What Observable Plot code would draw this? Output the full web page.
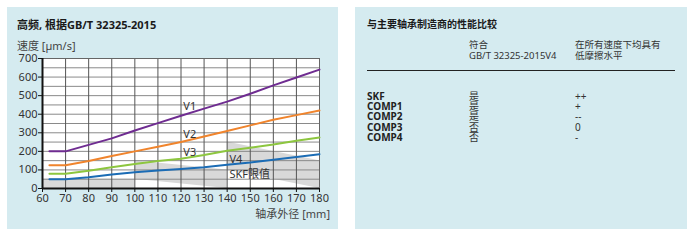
<!DOCTYPE html>
<html>
<head>
<meta charset="utf-8">
<script src="https://cdn.jsdelivr.net/npm/d3@7"></script>
<script src="https://cdn.jsdelivr.net/npm/@observablehq/plot@0.6"></script>
<style>
  html, body { margin: 0; padding: 0; background: #fff; }
  body { width: 693px; height: 241px; position: relative; overflow: hidden;
         font-family: "Noto Sans", "Noto Sans CJK SC", sans-serif; color: #222; }
  .panel { position: absolute; background: #d5ebf0; }
  .abs { position: absolute; white-space: nowrap; }
  .title { font-weight: bold; font-size: 11px; color: #1a1a1a; }
  #chart { position: absolute; left: 0; top: 0; }
</style>
</head>
<body>
<div class="panel" style="left:7px;top:7px;width:331px;height:222px;"></div>
<div class="panel" style="left:355px;top:7px;width:332px;height:222px;"></div>
<div class="abs title" id="title" style="left:17px;top:16px;"></div>
<div class="abs" id="subtitle" style="left:17px;top:37px;font-size:11px;color:#444;"></div>
<div id="chart"></div>
<div class="abs" id="xlabel" style="right:363px;top:205px;font-size:11px;color:#444;"></div>
<div id="table"></div>
<script>
// ---- chart data ----
const sizes = [63, 70, 80, 90, 100, 110, 120, 130, 140, 150, 160, 170, 180];
const v1 = [200, 200, 235, 270, 312, 352, 392, 430, 468, 510, 555, 598, 640];
const v2 = [125, 125, 148, 175, 200, 225, 250, 280, 310, 340, 370, 395, 420];
const v3 = [80, 80, 95, 115, 132, 148, 160, 180, 203, 220, 237, 257, 275];
const v4 = [50, 50, 60, 75, 88, 97, 105, 115, 128, 140, 155, 170, 185];
const seriesNames = ["V1", "V2", "V3", "V4"];
const seriesColors = ["#6f2c91", "#f0842c", "#8dc63f", "#1b6cb5"];
const limitX = [60, 100, 100, 140, 140, 180];
const limitY = [50, 50, 100, 100, 150, 150];
const labelTexts = ["V1", "V2", "V3", "V4", "SKF限值"];
const labelX = [121, 121, 121, 141, 141];
const labelY = [440, 290, 193, 155, 75];
const xTicks = [60, 70, 80, 90, 100, 110, 120, 130, 140, 150, 160, 170, 180];
const yTicks = [0, 100, 200, 300, 400, 500, 600, 700];
const yGrid = [50, 100, 150, 200, 250, 300, 350, 400, 450, 500, 550, 600, 650];
const chartTitle = "高频, 根据GB/T 32325-2015";
const yLabel = "速度 [µm/s]";
const xLabel = "轴承外径 [mm]";

// ---- table data ----
const tableTitle = "与主要轴承制造商的性能比较";
const colHeader2 = ["符合", "GB/T 32325-2015V4"];
const colHeader3 = ["在所有速度下均具有", "低摩擦水平"];
const rowNames = ["SKF", "COMP1", "COMP2", "COMP3", "COMP4"];
const compliant = ["是", "是", "是", "否", "否"];
const friction = ["++", "+", "--", "0", "-"];

document.getElementById("title").textContent = chartTitle;
document.getElementById("subtitle").textContent = yLabel;
document.getElementById("xlabel").textContent = xLabel;

const allValues = [v1, v2, v3, v4];
const lineData = allValues.flatMap((vals, s) =>
  sizes.map((x, i) => ({ x, y: vals[i], name: seriesNames[s] })));
const limitData = limitX.map((x, i) => ({ x, y: limitY[i] }));
const labelData = labelTexts.map((t, i) => ({ t, x: labelX[i], y: labelY[i] }));

const plot = Plot.plot({
  width: 345,
  height: 235,
  marginLeft: 42,
  marginRight: 26,
  marginTop: 58,
  marginBottom: 47,
  style: { background: "transparent", fontFamily: "'Noto Sans', 'Noto Sans CJK SC', sans-serif", fontSize: "11px", color: "#333" },
  x: { domain: [60, 180] },
  y: { domain: [0, 700] },
  color: { domain: seriesNames, range: seriesColors },
  marks: [
    Plot.frame({ fill: "white" }),
    Plot.areaY(limitData, { x: "x", y: "y", fill: "#d9d9d9" }),
    Plot.gridY({ ticks: yGrid, stroke: "#8a8a8a", strokeOpacity: 1, strokeWidth: 1 }),
    Plot.gridX({ ticks: xTicks, stroke: "#555", strokeOpacity: 1, strokeWidth: 1 }),
    Plot.frame({ stroke: "#666" }),
    Plot.line(lineData, { x: "x", y: "y", z: "name", stroke: "name", strokeWidth: 2 }),
    Plot.text(labelData, { x: "x", y: "y", text: "t", textAnchor: "start", fill: "#333", fontSize: 11 }),
    Plot.ruleX([60], { stroke: "#111", strokeWidth: 2 }),
    Plot.ruleY([0], { stroke: "#111", strokeWidth: 2 }),
    Plot.axisX({ ticks: xTicks, tickSize: 4, tickPadding: 2, label: null, stroke: "#111" }),
    Plot.axisY({ ticks: yTicks, tickSize: 4, tickPadding: 1, label: null, stroke: "#111" })
  ]
});
document.getElementById("chart").appendChild(plot);

// ---- table (HTML) ----
const tbl = document.getElementById("table");
function addText(txt, left, top, extra) {
  const d = document.createElement("div");
  d.className = "abs";
  d.textContent = txt;
  d.style.left = left + "px";
  d.style.top = top + "px";
  d.style.fontSize = "10px";
  d.style.lineHeight = "10px";
  d.style.color = "#333";
  if (extra) Object.assign(d.style, extra);
  tbl.appendChild(d);
}
addText(tableTitle, 367, 19, { fontWeight: "bold", fontSize: "10px", color: "#1a1a1a" });
colHeader2.forEach((t, i) => addText(t, 469, 40 + i * 10.5, { fontSize: "9.5px" }));
colHeader3.forEach((t, i) => addText(t, 575, 40 + i * 10.5, { fontSize: "9.5px" }));
const rule = document.createElement("div");
rule.className = "abs";
Object.assign(rule.style, { left: "367px", top: "70px", width: "308px", height: "1px", background: "#222" });
tbl.appendChild(rule);
rowNames.forEach((t, i) => {
  const top = 91 + i * 10.2;
  addText(t, 367, top, { fontWeight: "bold", color: "#222" });
  addText(compliant[i], 469, top, { fontSize: "10px", lineHeight: "10px" });
  addText(friction[i], 575, top);
});
</script>
</body>
</html>
